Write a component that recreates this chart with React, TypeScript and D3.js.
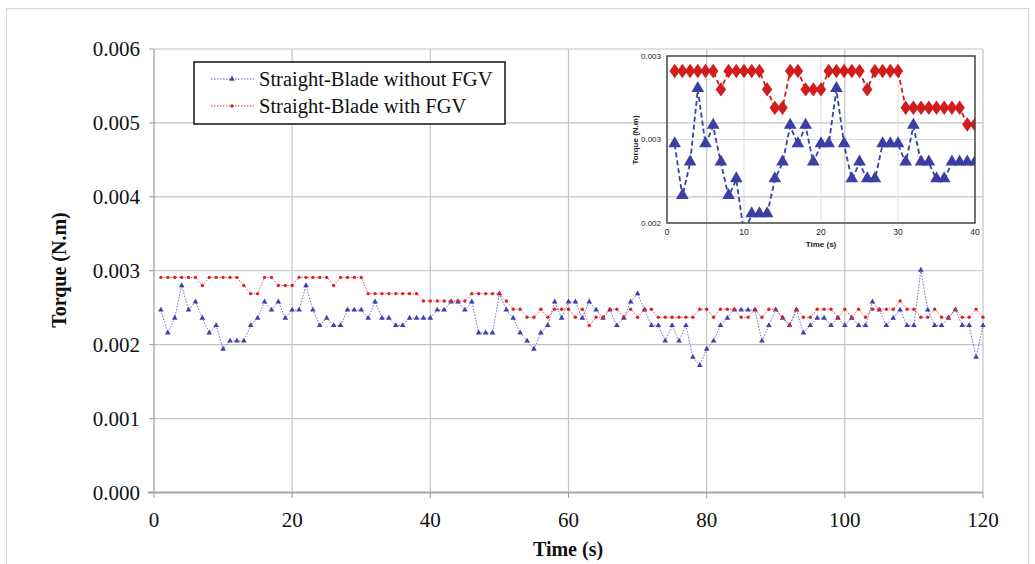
import React from 'react';
import * as d3 from 'd3';

// Torque values (N.m), one sample per second, t = 1..120 s
const seriesNames = ['Straight-Blade without FGV', 'Straight-Blade with FGV'];
const withoutFGV = [
  0.00247, 0.00216, 0.00236, 0.0028, 0.00247, 0.00258, 0.00236, 0.00216, 0.00226, 0.00194,
  0.00205, 0.00205, 0.00205, 0.00226, 0.00236, 0.00258, 0.00247, 0.00258, 0.00236, 0.00247,
  0.00247, 0.0028, 0.00247, 0.00226, 0.00236, 0.00226, 0.00226, 0.00247, 0.00247, 0.00247,
  0.00236, 0.00258, 0.00236, 0.00236, 0.00226, 0.00226, 0.00236, 0.00236, 0.00236, 0.00236,
  0.00247, 0.00247, 0.00258, 0.00258, 0.00247, 0.00258, 0.00216, 0.00216, 0.00216, 0.00269,
  0.00247, 0.00236, 0.00216, 0.00205, 0.00194, 0.00216, 0.00226, 0.00258, 0.00236, 0.00258,
  0.00258, 0.00236, 0.00258, 0.00247, 0.00236, 0.00247, 0.00226, 0.00236, 0.00258, 0.00269,
  0.00247, 0.00226, 0.00226, 0.00205, 0.00226, 0.00205, 0.00226, 0.00183, 0.00172, 0.00194,
  0.00205, 0.00226, 0.00236, 0.00247, 0.00247, 0.00247, 0.00247, 0.00205, 0.00226, 0.00247,
  0.00236, 0.00226, 0.00247, 0.00216, 0.00226, 0.00236, 0.00236, 0.00226, 0.00236, 0.00226,
  0.00236, 0.00226, 0.00226, 0.00258, 0.00247, 0.00226, 0.00236, 0.00247, 0.00226, 0.00226,
  0.00301, 0.00247, 0.00226, 0.00226, 0.00236, 0.00247, 0.00226, 0.00226, 0.00183, 0.00226,
];
const withFGV = [
  0.00291, 0.00291, 0.00291, 0.00291, 0.00291, 0.00291, 0.0028, 0.00291, 0.00291, 0.00291,
  0.00291, 0.00291, 0.0028, 0.00269, 0.00269, 0.00291, 0.00291, 0.0028, 0.0028, 0.0028,
  0.00291, 0.00291, 0.00291, 0.00291, 0.00291, 0.0028, 0.00291, 0.00291, 0.00291, 0.00291,
  0.00269, 0.00269, 0.00269, 0.00269, 0.00269, 0.00269, 0.00269, 0.00269, 0.00259, 0.00259,
  0.00259, 0.00259, 0.00259, 0.00259, 0.00259, 0.00269, 0.00269, 0.00269, 0.00269, 0.00269,
  0.00259, 0.00248, 0.00248, 0.00237, 0.00237, 0.00248, 0.00237, 0.00248, 0.00248, 0.00248,
  0.00237, 0.00248, 0.00226, 0.00237, 0.00237, 0.00248, 0.00248, 0.00237, 0.00248, 0.00237,
  0.00248, 0.00248, 0.00237, 0.00237, 0.00237, 0.00237, 0.00237, 0.00237, 0.00248, 0.00248,
  0.00237, 0.00248, 0.00248, 0.00248, 0.00237, 0.00237, 0.00248, 0.00237, 0.00248, 0.00248,
  0.00237, 0.00226, 0.00248, 0.00237, 0.00237, 0.00248, 0.00248, 0.00248, 0.00237, 0.00248,
  0.00237, 0.00248, 0.00237, 0.00248, 0.00248, 0.00248, 0.00248, 0.00259, 0.00248, 0.00248,
  0.00237, 0.00237, 0.00248, 0.00237, 0.00237, 0.00248, 0.00237, 0.00237, 0.00248, 0.00237,
];
const xTicks = [0, 20, 40, 60, 80, 100, 120];
const yTicks = [0, 0.001, 0.002, 0.003, 0.004, 0.005, 0.006];
const insetCount = 40;
const insetXTicks = [0, 10, 20, 30, 40];
const insetYTicks = [0.002, 0.0025, 0.003];
const insetYLabels = ['0.002', '0.003', '0.003'];

const BLUE = '#3f3fae';
const RED = '#e02222';
const IBLUE = '#3a3fa6';
const IRED = '#d11d1d';
const SERIF = '"Liberation Serif", "Times New Roman", serif';
const SANS = '"Liberation Sans", Arial, sans-serif';

type Pt = { t: number; v: number };
const toPts = (arr: number[]): Pt[] => arr.map((v, i) => ({ t: i + 1, v }));

export default function App() {
  const x = d3.scaleLinear().domain([0, 120]).range([154, 983]);
  const y = d3.scaleLinear().domain([0, 0.006]).range([492.5, 49]);
  const ix = d3.scaleLinear().domain([0, 40]).range([667, 975]);
  const iy = d3.scaleLinear().domain([0.002, 0.003]).range([223, 56]);

  const blue = toPts(withoutFGV);
  const red = toPts(withFGV);
  const line = d3.line<Pt>().x((d) => x(d.t)).y((d) => y(d.v));
  const iline = d3.line<Pt>().x((d) => ix(d.t)).y((d) => iy(d.v));
  const iblue = blue.slice(0, insetCount);
  const ired = red.slice(0, insetCount);

  const tri = d3.symbol().type(d3.symbolTriangle).size(14)()!;
  const triBig = d3.symbol().type(d3.symbolTriangle).size(70)()!;
  const diaBig = d3.symbol().type(d3.symbolDiamond).size(60)()!;

  return (
    <svg width={1035} height={564} style={{ position: 'absolute', left: 0, top: 0, background: '#fff' }}>
      <defs>
        <clipPath id="insetClip">
          <rect x={667} y={56} width={308} height={167} />
        </clipPath>
      </defs>
      <rect x={6.5} y={8.5} width={1022} height={600} fill="#fff" stroke="#d4d4d4" strokeWidth={1} />

      {/* grid */}
      {yTicks.slice(1).map((t) => (
        <line key={'gy' + t} x1={154} x2={983} y1={y(t)} y2={y(t)} stroke="#c4c4c4" strokeWidth={1.2} />
      ))}
      {xTicks.slice(1).map((t) => (
        <line key={'gx' + t} x1={x(t)} x2={x(t)} y1={49} y2={492.5} stroke="#c4c4c4" strokeWidth={1.2} />
      ))}
      {/* axes */}
      <line x1={154} x2={154} y1={49} y2={492.5} stroke="#9a9a9a" strokeWidth={1.2} />
      <line x1={148} x2={983} y1={492.5} y2={492.5} stroke="#a8a8a8" strokeWidth={2.2} />
      {yTicks.map((t) => (
        <g key={'yt' + t}>
          <line x1={149} x2={154} y1={y(t)} y2={y(t)} stroke="#9a9a9a" />
          <text x={140} y={y(t)} dy="0.35em" textAnchor="end" fontFamily={SERIF} fontSize={21} fill="#111">
            {d3.format('.3f')(t)}
          </text>
        </g>
      ))}
      {xTicks.map((t) => (
        <g key={'xt' + t}>
          <line x1={x(t)} x2={x(t)} y1={492.5} y2={498} stroke="#9a9a9a" />
          <text x={x(t)} y={527} textAnchor="middle" fontFamily={SERIF} fontSize={21} fill="#111">
            {t}
          </text>
        </g>
      ))}
      <text x={568} y={556} textAnchor="middle" fontFamily={SERIF} fontSize={20} fontWeight="bold" fill="#111">
        Time (s)
      </text>
      <text
        transform={`translate(66,${270}) rotate(-90)`}
        textAnchor="middle"
        fontFamily={SERIF}
        fontSize={20}
        fontWeight="bold"
        fill="#111"
      >
        Torque (N.m)
      </text>

      {/* main series */}
      <path d={line(blue)!} fill="none" stroke={BLUE} strokeWidth={0.9} strokeDasharray="1.5,1.5" opacity={0.85} />
      <path d={line(red)!} fill="none" stroke={RED} strokeWidth={0.9} strokeDasharray="1.5,1.5" opacity={0.85} />
      {blue.map((d) => (
        <path key={'b' + d.t} d={tri} transform={`translate(${x(d.t)},${y(d.v)})`} fill={BLUE} />
      ))}
      {red.map((d) => (
        <circle key={'r' + d.t} cx={x(d.t)} cy={y(d.v)} r={1.7} fill={RED} />
      ))}

      {/* legend */}
      <rect x={194} y={62} width={311} height={62} fill="#fff" stroke="#111" strokeWidth={1.5} />
      {seriesNames.map((name, i) => {
        const ly = 79 + i * 27;
        const col = i === 0 ? BLUE : RED;
        return (
          <g key={name}>
            <line x1={211} x2={254} y1={ly} y2={ly} stroke={col} strokeWidth={0.9} strokeDasharray="1.5,1.5" />
            {i === 0 ? (
              <path d={tri} transform={`translate(232,${ly})`} fill={col} />
            ) : (
              <circle cx={232} cy={ly} r={1.7} fill={col} />
            )}
            <text x={259} y={ly} dy="0.35em" fontFamily={SERIF} fontSize={20.5} fill="#111">
              {name}
            </text>
          </g>
        );
      })}

      {/* inset */}
      <g>
        {insetXTicks.slice(1, -1).map((t) => (
          <line key={'igx' + t} x1={ix(t)} x2={ix(t)} y1={56} y2={223} stroke="#dcdcdc" strokeWidth={1} />
        ))}
        {insetYTicks.slice(1, -1).map((t) => (
          <line key={'igy' + t} x1={667} x2={975} y1={iy(t)} y2={iy(t)} stroke="#dcdcdc" strokeWidth={1} />
        ))}
        <g clipPath="url(#insetClip)">
          <path d={iline(iblue)!} fill="none" stroke={IBLUE} strokeWidth={1.8} strokeDasharray="5,3" />
          <path d={iline(ired)!} fill="none" stroke={IRED} strokeWidth={1.8} strokeDasharray="5,3" />
          {iblue.map((d) => (
            <path key={'ib' + d.t} d={triBig} transform={`translate(${ix(d.t)},${iy(d.v) - 1})`} fill={IBLUE} />
          ))}
          {ired.map((d) => (
            <path key={'ir' + d.t} d={diaBig} transform={`translate(${ix(d.t)},${iy(d.v)}) scale(1.25,1)`} fill={IRED} />
          ))}
        </g>
        <rect x={667} y={56} width={308} height={167} fill="none" stroke="#444" strokeWidth={1.5} />
        {insetYTicks.map((t, i) => (
          <text key={'iyt' + t} x={661} y={iy(t)} dy="0.35em" textAnchor="end" fontFamily={SANS} fontSize={8} fill="#222">
            {insetYLabels[i]}
          </text>
        ))}
        {insetXTicks.map((t) => (
          <text key={'ixt' + t} x={ix(t)} y={235} textAnchor="middle" fontFamily={SANS} fontSize={8.5} fill="#222">
            {t}
          </text>
        ))}
        <text x={821} y={247} textAnchor="middle" fontFamily={SANS} fontSize={8} fontWeight="bold" fill="#222">
          Time (s)
        </text>
        <text
          transform={`translate(638,${140}) rotate(-90)`}
          textAnchor="middle"
          fontFamily={SANS}
          fontSize={8}
          fontWeight="bold"
          fill="#222"
        >
          Torque (N.m)
        </text>
      </g>
    </svg>
  );
}
